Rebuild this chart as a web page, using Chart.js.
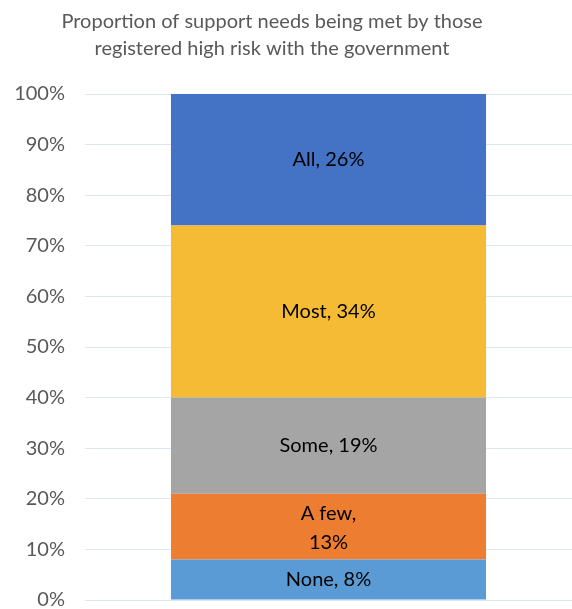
<!DOCTYPE html>
<html>
<head>
<meta charset="utf-8">
<script src="https://cdn.jsdelivr.net/npm/chart.js@4/dist/chart.umd.min.js"></script>
<style>
  html, body { margin: 0; padding: 0; background: #fff; }
  canvas { display: block; }
</style>
</head>
<body>
<canvas id="chart" width="572" height="609"></canvas>
<script>
const categories = [""];
const segmentNames = ["None", "A few", "Some", "Most", "All"];
const segmentValues = [8, 13, 19, 34, 26];
const segmentColors = ["#5B9BD5", "#ED7D31", "#A5A5A5", "#F5BB34", "#4472C4"];
const yTicks = [0, 10, 20, 30, 40, 50, 60, 70, 80, 90, 100];

const FONT = "Lato, 'Open Sans', sans-serif";

// labels in the middle of each stacked segment ("A few" wraps onto two lines)
const segmentLabels = {
  id: "segmentLabels",
  afterDatasetsDraw(chart) {
    const ctx = chart.ctx;
    ctx.save();
    ctx.fillStyle = "#000";
    ctx.font = "20px " + FONT;
    ctx.textAlign = "center";
    ctx.textBaseline = "middle";
    chart.data.datasets.forEach((ds, i) => {
      const bar = chart.getDatasetMeta(i).data[0];
      const cy = (bar.y + bar.base) / 2;
      if (ds.label === "A few") {
        ctx.fillText(ds.label + ",", bar.x, cy - 13);
        ctx.fillText(ds.data[0] + "%", bar.x, cy + 16);
      } else {
        ctx.fillText(ds.label + ", " + ds.data[0] + "%", bar.x, cy);
      }
    });
    ctx.restore();
  }
};

// title sits a little left of the canvas centre
const titleShift = {
  id: "titleShift",
  afterLayout(chart) {
    const t = chart.titleBlock;
    if (t) { t.left -= 14; t.right -= 14; }
  }
};

new Chart(document.getElementById("chart").getContext("2d"), {
  type: "bar",
  data: {
    labels: categories,
    datasets: segmentNames.map((name, i) => ({
      label: name,
      data: [segmentValues[i]],
      backgroundColor: segmentColors[i],
      barPercentage: 0.647,
      categoryPercentage: 1
    }))
  },
  options: {
    responsive: false,
    animation: false,
    layout: { padding: { top: 4, right: 0, bottom: 0, left: 0 } },
    plugins: {
      legend: { display: false },
      tooltip: { enabled: false },
      title: {
        display: true,
        text: ["Proportion of support needs being met by those", "registered high risk with the government"],
        color: "#595959",
        font: { family: FONT, size: 20, weight: "normal", lineHeight: 1.35 },
        padding: { top: 4, bottom: 32 }
      }
    },
    scales: {
      x: { stacked: true, display: false },
      y: {
        stacked: true,
        min: 0,
        max: 100,
        afterBuildTicks(axis) {
          axis.ticks = yTicks.map(v => ({ value: v }));
        },
        afterFit(axis) {
          axis.width = 85;
          axis.paddingBottom = 9;
        },
        border: { display: false },
        grid: { color: "#DCE6F2", drawTicks: false, lineWidth: 1 },
        ticks: {
          color: "#595959",
          padding: 20,
          font: { family: FONT, size: 20 },
          callback: v => v + "%"
        }
      }
    }
  },
  plugins: [segmentLabels, titleShift]
});
</script>
</body>
</html>
